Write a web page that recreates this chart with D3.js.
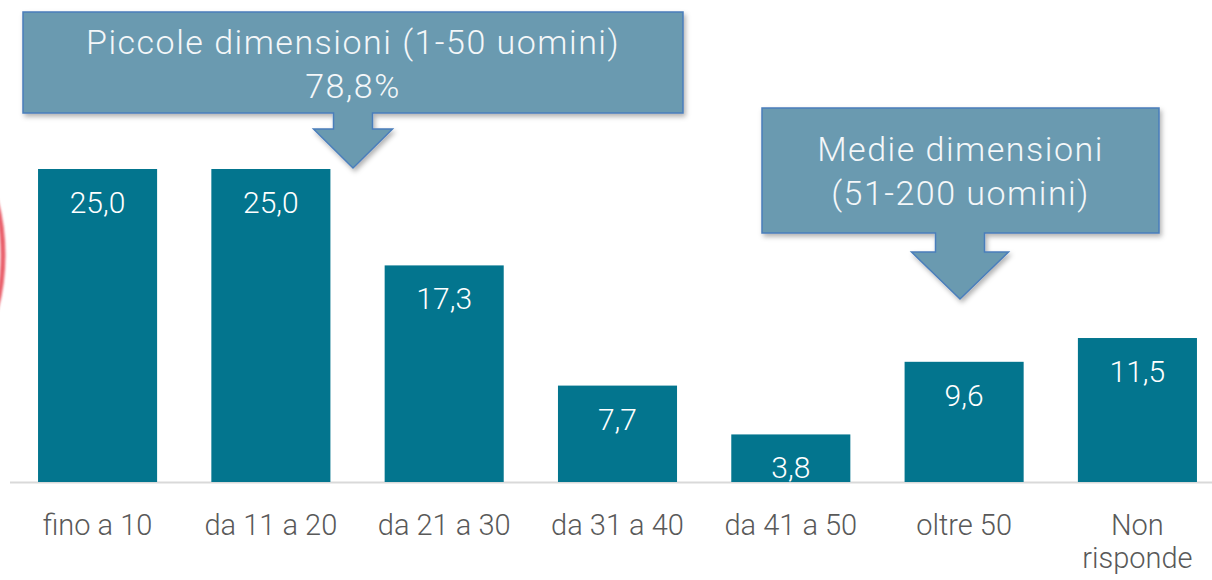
<!DOCTYPE html>
<html>
<head>
<meta charset="utf-8">
<script src="https://cdn.jsdelivr.net/npm/d3@7"></script>
<style>
  body { margin: 0; background: #fff; }
  svg text { font-family: Roboto, "Open Sans", sans-serif; font-weight: 300; }
</style>
</head>
<body>
<svg id="chart" width="1212" height="580"></svg>
<script>
// data
var categories = ["fino a 10", "da 11 a 20", "da 21 a 30", "da 31 a 40", "da 41 a 50", "oltre 50", "Non risponde"];
var values = [25.0, 25.0, 17.3, 7.7, 3.8, 9.6, 11.5];
var valueLabels = ["25,0", "25,0", "17,3", "7,7", "3,8", "9,6", "11,5"];
var callout1Text = ["Piccole dimensioni (1-50 uomini)", "78,8%"];
var callout2Text = ["Medie dimensioni", "(51-200 uomini)"];

var svg = d3.select("#chart");
var baseY = 482, topY = 169;

var defs = svg.append("defs");
var sh = defs.append("filter").attr("id", "shadow")
    .attr("x", "-10%").attr("y", "-10%").attr("width", "130%").attr("height", "140%");
sh.append("feDropShadow").attr("dx", 2).attr("dy", 3).attr("stdDeviation", 2.5)
    .attr("flood-color", "#000").attr("flood-opacity", 0.3);
var glow = defs.append("filter").attr("id", "glow")
    .attr("x", "-50%").attr("y", "-50%").attr("width", "200%").attr("height", "200%");
glow.append("feGaussianBlur").attr("stdDeviation", 1);

// red ellipse fragment at the left edge
svg.append("ellipse")
    .attr("cx", -100).attr("cy", 255).attr("rx", 103).attr("ry", 150)
    .attr("fill", "none").attr("stroke", "#e9616c").attr("stroke-width", 5)
    .attr("filter", "url(#glow)");

var x = d3.scaleBand().domain(categories).range([11, 1224])
    .paddingInner(0.313).paddingOuter(0.156);
var y = d3.scaleLinear().domain([0, 25]).range([baseY, topY]);

// axis line
svg.append("line")
    .attr("x1", 10).attr("x2", 1212)
    .attr("y1", baseY + 0.5).attr("y2", baseY + 0.5)
    .attr("stroke", "#d9d9d9").attr("stroke-width", 2);

svg.selectAll(".bar")
    .data(values)
    .enter().append("rect")
    .attr("class", "bar")
    .attr("x", function(d, i) { return x(categories[i]); })
    .attr("y", function(d) { return y(d); })
    .attr("width", x.bandwidth())
    .attr("height", function(d) { return baseY - y(d); })
    .attr("fill", "#03758e");

svg.selectAll(".vlabel")
    .data(values)
    .enter().append("text")
    .attr("class", "vlabel")
    .attr("x", function(d, i) { return x(categories[i]) + x.bandwidth() / 2; })
    .attr("y", function(d) { return y(d) + 44; })
    .attr("text-anchor", "middle")
    .attr("font-size", 30)
    .attr("fill", "#fff")
    .text(function(d, i) { return valueLabels[i]; });

// category labels (wrap on two words for "Non risponde")
svg.selectAll(".clabel")
    .data(categories)
    .enter().append("text")
    .attr("class", "clabel")
    .attr("text-anchor", "middle")
    .attr("font-size", 29)
    .attr("fill", "#595959")
    .each(function(d) {
      var lines = d == "Non risponde" ? ["Non", "risponde"] : [d];
      var t = d3.select(this);
      lines.forEach(function(l, k) {
        t.append("tspan")
          .attr("x", x(d) + x.bandwidth() / 2)
          .attr("y", baseY + 53 + k * 33)
          .text(l);
      });
    });

// callouts: rectangle + down arrow
function callout(box, stem, head, tip, lines, lineY, size) {
  var cx = tip[0];
  var p = [
    [box[0], box[1]], [box[2], box[1]], [box[2], box[3]],
    [cx + stem, box[3]], [cx + stem, head[0]], [cx + head[1], head[0]],
    [cx, tip[1]],
    [cx - head[1], head[0]], [cx - stem, head[0]], [cx - stem, box[3]],
    [box[0], box[3]]
  ];
  svg.append("path")
    .attr("d", d3.line()(p) + "Z")
    .attr("fill", "#6b9ab0")
    .attr("stroke", "#4a7ebb")
    .attr("stroke-width", 1.5)
    .attr("filter", "url(#shadow)");
  var t = svg.append("text")
    .attr("text-anchor", "middle")
    .attr("font-size", size)
    .attr("letter-spacing", 1.5)
    .attr("fill", "#f4f7f9");
  lines.forEach(function(l, k) {
    t.append("tspan").attr("x", (box[0] + box[2]) / 2).attr("y", lineY[k]).text(l);
  });
}

callout([23, 12, 683, 113], 19.5, [129, 39.5], [353, 168], callout1Text, [54, 98], 34);
callout([762, 108, 1159, 233], 24.5, [252, 48.5], [960, 299], callout2Text, [161, 205], 34);
</script>
</body>
</html>
